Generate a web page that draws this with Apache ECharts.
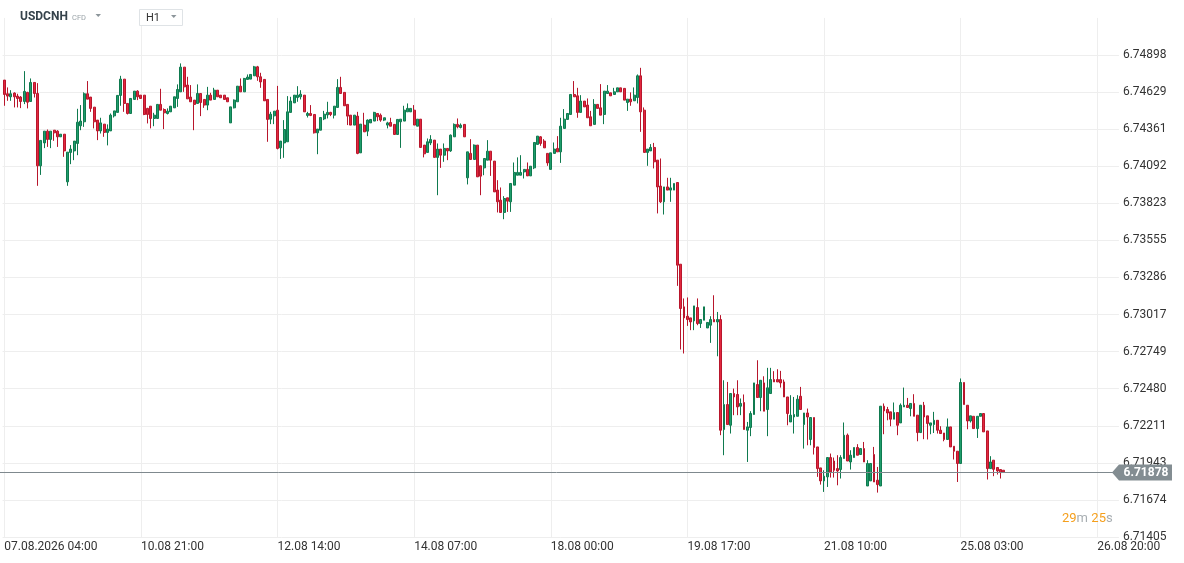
<!DOCTYPE html>
<html><head><meta charset="utf-8">
<script src="https://cdn.jsdelivr.net/npm/echarts@6/dist/echarts.min.js"></script>
<style>html,body{margin:0;padding:0;background:#fff}#chart{width:1184px;height:563px}</style>
</head><body><div id="chart"></div>
<script>
// ---- data (USDCNH, H1 candles) ----
const opens = [
6.74717,6.74618,6.74596,6.74623,6.74601,6.74594,6.74562,6.74628,6.74562,6.74700,
6.74620,6.74096,6.74262,6.74347,6.74287,6.74354,6.74347,6.74306,6.74325,6.73980,
6.74193,6.74204,6.74258,6.74386,6.74415,6.74618,6.74594,6.74521,6.74427,6.74349,
6.74398,6.74338,6.74349,6.74458,6.74483,6.74606,6.74724,6.74548,6.74475,6.74577,
6.74637,6.74608,6.74608,6.74512,6.74528,6.74439,6.74439,6.74541,6.74504,6.74475,
6.74487,6.74516,6.74584,6.74632,6.74811,6.74681,6.74594,6.74572,6.74548,6.74620,
6.74577,6.74536,6.74608,6.74577,6.74644,6.74608,6.74608,6.74589,6.74407,6.74516,
6.74560,6.74673,6.74632,6.74722,6.74724,6.74748,6.74813,6.74741,6.74722,6.74577,
6.74434,6.74458,6.74499,6.74226,6.74262,6.74270,6.74483,6.74552,6.74591,6.74596,
6.74608,6.74461,6.74475,6.74468,6.74335,6.74354,6.74436,6.74465,6.74483,6.74463,
6.74519,6.74664,6.74628,6.74541,6.74463,6.74391,6.74456,6.74190,6.74391,6.74347,
6.74407,6.74420,6.74475,6.74463,6.74427,6.74391,6.74410,6.74396,6.74323,6.74415,
6.74420,6.74487,6.74487,6.74499,6.74383,6.74434,6.74246,6.74193,6.74262,6.74282,
6.74157,6.74217,6.74173,6.74222,6.74204,6.74306,6.74396,6.74374,6.74396,6.74009,
6.74186,6.74142,6.74246,6.74096,6.74081,6.74137,6.74202,6.74130,6.73920,6.73847,
6.73758,6.73864,6.73835,6.73956,6.74028,6.74028,6.74052,6.74070,6.74023,6.74081,
6.74251,6.74306,6.74275,6.74186,6.74070,6.74186,6.74222,6.74197,6.74367,6.74432,
6.74468,6.74613,6.74603,6.74483,6.74565,6.74536,6.74451,6.74396,6.74541,6.74516,
6.74468,6.74620,6.74625,6.74613,6.74632,6.74661,6.74657,6.74555,6.74579,6.74567,
6.74591,6.74748,6.74499,6.74193,6.74204,6.74229,6.74137,6.73949,6.73835,6.73943,
6.73920,6.73920,6.73975,6.73383,6.73074,6.73006,6.72994,6.72972,6.73069,6.72953,
6.72977,6.72921,6.72941,6.72982,6.72965,6.72982,6.72185,6.72366,6.72216,6.72446,
6.72439,6.72354,6.72381,6.72180,6.72200,6.72294,6.72511,6.72417,6.72523,6.72330,
6.72446,6.72547,6.72547,6.72547,6.72530,6.72421,6.72240,6.72276,6.72281,6.72426,
6.72221,6.72305,6.72113,6.72272,6.72059,6.71907,6.71813,6.71842,6.71982,6.71957,
6.71902,6.71895,6.71975,6.72144,6.71950,6.71982,6.72055,6.72004,6.72047,6.71776,
6.71813,6.72004,6.71818,6.71776,6.72354,6.72330,6.72313,6.72260,6.72308,6.72233,
6.72349,6.72361,6.72337,6.72374,6.72289,6.72163,6.72361,6.72284,6.72216,6.72221,
6.72252,6.72180,6.72160,6.72113,6.72204,6.72064,6.72028,6.71939,6.72526,6.72361,
6.72247,6.72281,6.72192,6.72281,6.72301,6.72175,6.71902,6.71963,6.71910,6.71895,
6.71890];
const closes = [
6.74613,6.74601,6.74618,6.74596,6.74584,6.74562,6.74635,6.74557,6.74700,6.74620,
6.74096,6.74280,6.74347,6.74287,6.74347,6.74335,6.74306,6.74325,6.74204,6.74195,
6.74217,6.74275,6.74412,6.74420,6.74618,6.74579,6.74512,6.74415,6.74349,6.74407,
6.74338,6.74362,6.74463,6.74494,6.74606,6.74724,6.74548,6.74475,6.74584,6.74637,
6.74596,6.74584,6.74468,6.74468,6.74439,6.74463,6.74541,6.74499,6.74480,6.74492,
6.74528,6.74596,6.74649,6.74811,6.74668,6.74581,6.74560,6.74541,6.74620,6.74555,
6.74536,6.74608,6.74572,6.74644,6.74596,6.74589,6.74577,6.74560,6.74523,6.74572,
6.74673,6.74632,6.74729,6.74739,6.74758,6.74813,6.74741,6.74704,6.74567,6.74432,
6.74470,6.74492,6.74222,6.74275,6.74359,6.74487,6.74565,6.74608,6.74608,6.74615,
6.74487,6.74475,6.74461,6.74335,6.74362,6.74446,6.74470,6.74483,6.74468,6.74528,
6.74664,6.74620,6.74531,6.74456,6.74391,6.74463,6.74186,6.74398,6.74342,6.74427,
6.74432,6.74483,6.74451,6.74427,6.74444,6.74407,6.74383,6.74323,6.74432,6.74434,
6.74499,6.74512,6.74512,6.74391,6.74434,6.74229,6.74183,6.74270,6.74287,6.74157,
6.74217,6.74173,6.74222,6.74204,6.74318,6.74396,6.74378,6.74391,6.74306,6.74197,
6.74142,6.74246,6.74016,6.74021,6.74149,6.74202,6.74137,6.73907,6.73835,6.73758,
6.73859,6.73840,6.73968,6.74048,6.74048,6.74048,6.74070,6.74023,6.74093,6.74265,
6.74311,6.74258,6.74226,6.74117,6.74190,6.74217,6.74197,6.74383,6.74434,6.74475,
6.74613,6.74596,6.74483,6.74565,6.74523,6.74444,6.74386,6.74541,6.74512,6.74463,
6.74637,6.74637,6.74603,6.74632,6.74661,6.74632,6.74572,6.74579,6.74560,6.74608,
6.74748,6.74487,6.74193,6.74217,6.74229,6.74125,6.73943,6.73835,6.73943,6.73920,
6.73936,6.73968,6.73376,6.73062,6.72994,6.72982,6.72965,6.73081,6.72953,6.72982,
6.73074,6.72961,6.72982,6.72965,6.72982,6.72180,6.72366,6.72221,6.72446,6.72421,
6.72349,6.72374,6.72185,6.72204,6.72301,6.72523,6.72417,6.72542,6.72318,6.72487,
6.72547,6.72530,6.72530,6.72523,6.72421,6.72301,6.72289,6.72294,6.72405,6.72330,
6.72305,6.72276,6.72272,6.72055,6.71902,6.71813,6.71847,6.71982,6.71878,6.71890,
6.71885,6.71982,6.72144,6.71957,6.71999,6.72055,6.71999,6.72047,6.71950,6.71939,
6.71939,6.71805,6.71786,6.72354,6.72320,6.72305,6.72260,6.72308,6.72216,6.72361,
6.72361,6.72345,6.72374,6.72281,6.72163,6.72361,6.72276,6.72229,6.72233,6.72252,
6.72180,6.72156,6.72113,6.72204,6.72059,6.72028,6.71939,6.72526,6.72366,6.72247,
6.72284,6.72192,6.72281,6.72301,6.72168,6.71902,6.71950,6.71897,6.71885,6.71873,
6.71878];
const lows = [
6.74531,6.74567,6.74567,6.74519,6.74519,6.74514,6.74543,6.74512,6.74562,6.74591,
6.73951,6.74030,6.74224,6.74233,6.74224,6.74277,6.74233,6.74306,6.74161,6.73951,
6.74108,6.74137,6.74173,6.74354,6.74378,6.74579,6.74487,6.74367,6.74282,6.74330,
6.74306,6.74244,6.74349,6.74446,6.74483,6.74531,6.74487,6.74468,6.74475,6.74577,
6.74572,6.74584,6.74463,6.74403,6.74367,6.74383,6.74439,6.74499,6.74362,6.74468,
6.74487,6.74516,6.74523,6.74632,6.74632,6.74581,6.74560,6.74354,6.74548,6.74456,
6.74516,6.74499,6.74572,6.74577,6.74596,6.74589,6.74577,6.74560,6.74407,6.74512,
6.74560,6.74632,6.74632,6.74722,6.74724,6.74748,6.74712,6.74661,6.74567,6.74270,
6.74398,6.74398,6.74215,6.74146,6.74154,6.74270,6.74483,6.74552,6.74560,6.74577,
6.74487,6.74446,6.74456,6.74330,6.74180,6.74354,6.74427,6.74439,6.74456,6.74439,
6.74519,6.74620,6.74531,6.74391,6.74391,6.74391,6.74180,6.74190,6.74342,6.74311,
6.74407,6.74420,6.74420,6.74415,6.74420,6.74367,6.74383,6.74323,6.74323,6.74226,
6.74420,6.74487,6.74487,6.74391,6.74383,6.74229,6.74157,6.74193,6.74246,6.74157,
6.73883,6.74081,6.74125,6.74137,6.74197,6.74306,6.74367,6.74367,6.74306,6.73961,
6.74142,6.74142,6.74016,6.73883,6.74028,6.74137,6.74023,6.73907,6.73758,6.73758,
6.73709,6.73762,6.73762,6.73956,6.74028,6.74028,6.74004,6.74023,6.74023,6.74072,
6.74251,6.74241,6.74226,6.74096,6.74070,6.74186,6.74197,6.74117,6.74367,6.74432,
6.74468,6.74596,6.74444,6.74483,6.74523,6.74444,6.74386,6.74396,6.74512,6.74463,
6.74398,6.74620,6.74603,6.74613,6.74632,6.74632,6.74572,6.74494,6.74531,6.74567,
6.74548,6.74342,6.74193,6.74096,6.74204,6.74077,6.73751,6.73827,6.73743,6.73920,
6.73835,6.73920,6.73226,6.72765,6.72736,6.72936,6.72905,6.72905,6.72941,6.72921,
6.72977,6.72921,6.72813,6.72965,6.72716,6.72144,6.71999,6.72221,6.72156,6.72289,
6.72289,6.72289,6.72185,6.71950,6.72137,6.72294,6.72417,6.72318,6.72318,6.72137,
6.72446,6.72530,6.72530,6.72489,6.72421,6.72216,6.72240,6.72156,6.72281,6.72330,
6.72047,6.72071,6.72071,6.72004,6.71842,6.71786,6.71733,6.71769,6.71837,6.71837,
6.71781,6.71830,6.71975,6.71957,6.71895,6.71982,6.71999,6.72004,6.71950,6.71776,
6.71813,6.71805,6.71728,6.71776,6.72151,6.72252,6.72209,6.72260,6.72144,6.72233,
6.72349,6.72345,6.72281,6.72281,6.72100,6.72163,6.72115,6.72113,6.72151,6.72160,
6.72156,6.72156,6.72100,6.72113,6.72059,6.71968,6.71805,6.71939,6.72366,6.72187,
6.72236,6.72192,6.72124,6.72281,6.72168,6.71823,6.71902,6.71847,6.71859,6.71830,
6.71871];
const highs = [
6.74717,6.74664,6.74644,6.74628,6.74618,6.74601,6.74782,6.74632,6.74729,6.74700,
6.74695,6.74280,6.74347,6.74359,6.74347,6.74354,6.74354,6.74325,6.74325,6.74195,
6.74246,6.74275,6.74509,6.74536,6.74628,6.74710,6.74594,6.74521,6.74427,6.74444,
6.74398,6.74396,6.74475,6.74494,6.74606,6.74748,6.74724,6.74548,6.74584,6.74637,
6.74644,6.74608,6.74608,6.74516,6.74528,6.74480,6.74541,6.74654,6.74512,6.74512,
6.74528,6.74596,6.74686,6.74838,6.74811,6.74741,6.74681,6.74572,6.74686,6.74620,
6.74577,6.74668,6.74625,6.74661,6.74644,6.74608,6.74608,6.74589,6.74523,6.74577,
6.74673,6.74729,6.74733,6.74758,6.74758,6.74820,6.74820,6.74770,6.74722,6.74577,
6.74487,6.74492,6.74675,6.74275,6.74427,6.74601,6.74596,6.74608,6.74673,6.74644,
6.74608,6.74487,6.74536,6.74468,6.74362,6.74446,6.74494,6.74560,6.74487,6.74528,
6.74724,6.74741,6.74628,6.74541,6.74463,6.74463,6.74487,6.74398,6.74480,6.74432,
6.74432,6.74487,6.74475,6.74475,6.74444,6.74415,6.74444,6.74396,6.74432,6.74434,
6.74531,6.74548,6.74512,6.74536,6.74434,6.74434,6.74246,6.74294,6.74318,6.74282,
6.74258,6.74217,6.74258,6.74222,6.74323,6.74403,6.74439,6.74403,6.74396,6.74197,
6.74289,6.74251,6.74246,6.74096,6.74149,6.74282,6.74202,6.74130,6.73992,6.73939,
6.73876,6.73864,6.73968,6.74120,6.74157,6.74173,6.74070,6.74120,6.74093,6.74265,
6.74311,6.74311,6.74289,6.74186,6.74190,6.74265,6.74311,6.74444,6.74507,6.74475,
6.74613,6.74710,6.74661,6.74608,6.74565,6.74584,6.74494,6.74579,6.74541,6.74688,
6.74637,6.74681,6.74625,6.74661,6.74661,6.74661,6.74657,6.74579,6.74628,6.74664,
6.74758,6.74806,6.74519,6.74217,6.74253,6.74262,6.74137,6.74149,6.73943,6.74009,
6.74009,6.73968,6.73975,6.73383,6.73135,6.73142,6.72994,6.73081,6.73135,6.72982,
6.73074,6.72961,6.73006,6.73158,6.73037,6.73014,6.72542,6.72530,6.72446,6.72482,
6.72542,6.72410,6.72439,6.72240,6.72318,6.72523,6.72687,6.72542,6.72571,6.72632,
6.72632,6.72608,6.72622,6.72610,6.72547,6.72421,6.72434,6.72421,6.72434,6.72494,
6.72305,6.72337,6.72272,6.72272,6.72059,6.71907,6.71890,6.71982,6.72011,6.71982,
6.71999,6.71999,6.72236,6.72156,6.72035,6.72055,6.72079,6.72047,6.72095,6.71963,
6.71939,6.72059,6.71914,6.72354,6.72374,6.72349,6.72313,6.72381,6.72308,6.72374,
6.72489,6.72414,6.72374,6.72441,6.72289,6.72361,6.72385,6.72284,6.72233,6.72313,
6.72252,6.72209,6.72160,6.72265,6.72204,6.72064,6.72028,6.72555,6.72526,6.72361,
6.72284,6.72281,6.72281,6.72301,6.72301,6.72175,6.71992,6.71963,6.71910,6.71895,
6.71890];
const yTickLabels = ['6.71405','6.71674','6.71943','6.72211','6.72480','6.72749','6.73017',
  '6.73286','6.73555','6.73823','6.74092','6.74361','6.74629','6.74898'];
const lastPrice = 6.71878;
const symbolName = 'USDCNH';
const symbolType = 'CFD';
const timeframe = 'H1';
const countdownMin = '29', countdownSec = '25';

// ---- hourly categories (market closed Fri 23:00 .. Sun 22:00 UTC) ----
const CATEGORY_COUNT = 335;
const categories = [];
(function () {
  let t = Date.UTC(2026, 7, 7, 4);
  const p = n => String(n).padStart(2, '0');
  while (categories.length < CATEGORY_COUNT) {
    const d = new Date(t);
    const wd = d.getUTCDay(), h = d.getUTCHours();
    const closed = wd === 6 || (wd === 5 && h === 23) || (wd === 0 && h < 23);
    if (!closed) categories.push(p(d.getUTCDate()) + '.' + p(d.getUTCMonth() + 1) + '.' + d.getUTCFullYear() + ' ' + p(h) + ':00');
    t += 3600000;
  }
})();

const candles = opens.map((o, i) => [o, closes[i], lows[i], highs[i]]);

const STEP = 0.0026867, BASE = 2499;
const FONT = 'Roboto, "Noto Sans", sans-serif';

const chart = echarts.init(document.getElementById('chart'), null, { renderer: 'canvas' });
chart.setOption({
  animation: false,
  backgroundColor: '#ffffff',
  textStyle: { fontFamily: FONT },
  grid: { left: 2.6, right: 65.1, top: 17.9, bottom: 26, containLabel: false },
  xAxis: {
    type: 'category',
    data: categories,
    boundaryGap: true,
    axisLine: { show: false },
    axisTick: { show: false },
    axisLabel: {
      interval: 40, align: 'left', margin: 4, color: '#333', fontSize: 12, fontFamily: FONT,
      formatter: (v, i) => i === 0 ? v : v.slice(0, 5) + v.slice(10)
    },
    splitLine: { show: true, interval: 40, alignWithLabel: true, lineStyle: { color: '#eeeeee', width: 1 } }
  },
  yAxis: {
    type: 'value', position: 'right', scale: true,
    min: BASE * STEP, max: (BASE + 14) * STEP, interval: STEP,
    axisLine: { show: false }, axisTick: { show: false },
    axisLabel: {
      margin: 4, color: '#333', fontSize: 12, fontFamily: FONT, showMaxLabel: false,
      formatter: v => yTickLabels[Math.round(v / STEP) - BASE] || ''
    },
    splitLine: { show: true, showMaxLine: false, lineStyle: { color: '#eeeeee', width: 1 } }
  },
  series: [{
    type: 'candlestick',
    data: candles,
    barWidth: 2.4,
    itemStyle: {
      color: '#1f9d6c', color0: '#e2283e',
      borderColor: '#0f7a4f', borderColor0: '#b8162c', borderWidth: 1
    }
  }]
});

const py = Math.round(chart.convertToPixel({ yAxisIndex: 0 }, lastPrice)) + 0.5;
chart.setOption({
  graphic: [
    { type: 'line', shape: { x1: 0, y1: py, x2: 1113, y2: py }, style: { stroke: '#7f898e', lineWidth: 1 }, z: 9, silent: true },
    { type: 'polygon', shape: { points: [[1112, py], [1119, py - 8], [1172, py - 8], [1172, py + 8], [1119, py + 8]] },
      style: { fill: '#838d92' }, z: 10 },
    { type: 'text', x: 1146, y: py, z: 11,
      style: { text: lastPrice.toFixed(5), fill: '#ffffff', font: 'bold 12px ' + FONT, align: 'center', verticalAlign: 'middle' } },
    { type: 'text', x: 1062, y: 519, z: 11,
      style: { text: '{a|' + countdownMin + '}{b|m} {a|' + countdownSec + '}{b|s}', verticalAlign: 'middle',
        rich: { a: { fill: '#f59f1c', font: '13px ' + FONT }, b: { fill: '#a8aeb2', font: '13px ' + FONT } } } },
    { type: 'text', x: 20, y: 17, z: 11,
      style: { text: symbolName, fill: '#35424b', font: 'bold 12px ' + FONT, verticalAlign: 'middle' } },
    { type: 'text', x: 72, y: 18, z: 11,
      style: { text: symbolType, fill: '#9aa3a8', font: '7.5px ' + FONT, verticalAlign: 'middle' } },
    { type: 'polygon', shape: { points: [[95.5, 14], [101, 14], [98.25, 17]] }, style: { fill: '#8c959a' }, z: 11 },
    { type: 'rect', shape: { x: 139.5, y: 9.5, width: 43, height: 16 }, style: { fill: '#ffffff', stroke: '#dfe3e6', lineWidth: 1 }, z: 10 },
    { type: 'text', x: 146, y: 18, z: 11,
      style: { text: timeframe, fill: '#333', font: '11px ' + FONT, verticalAlign: 'middle' } },
    { type: 'polygon', shape: { points: [[171, 15], [176.5, 15], [173.75, 18]] }, style: { fill: '#8c959a' }, z: 11 }
  ]
});
</script>
</body></html>
